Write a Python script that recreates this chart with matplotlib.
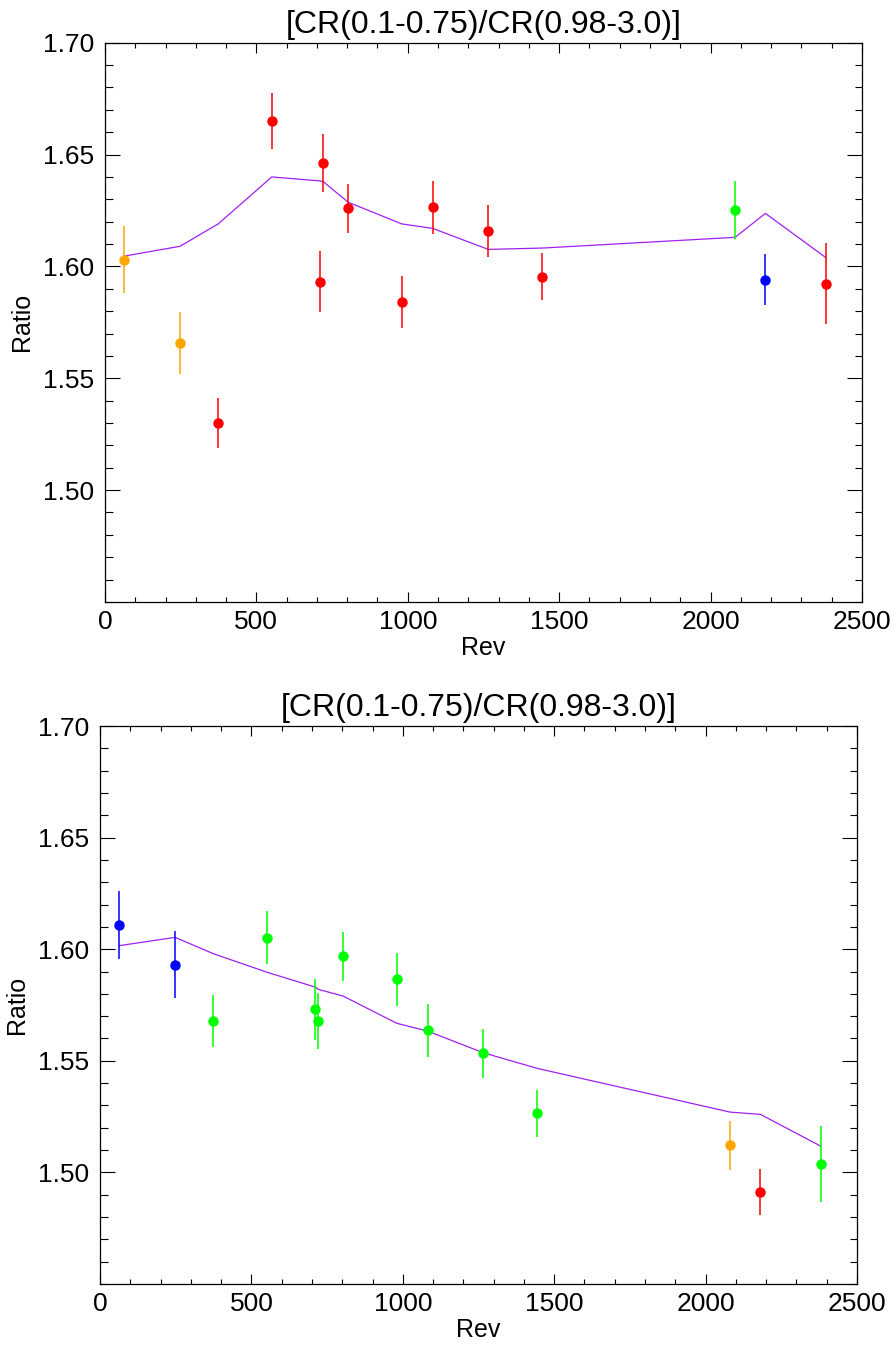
import matplotlib
matplotlib.use('Agg')
import matplotlib.pyplot as plt
from matplotlib.ticker import MultipleLocator

plt.rcParams['font.family'] = ['Liberation Sans', 'DejaVu Sans']

# revolution numbers shared by both panels
rev = [64, 248, 374, 551, 711, 721, 803, 980, 1082, 1266, 1444, 2081, 2181, 2381]

# top panel
top_ratio = [1.603, 1.5658, 1.530, 1.6651, 1.5932, 1.6464, 1.626, 1.5841, 1.6264, 1.6158, 1.5954, 1.6252, 1.5941, 1.5923]
top_err = [0.015, 0.014, 0.011, 0.0124, 0.0135, 0.013, 0.011, 0.0116, 0.012, 0.0115, 0.0104, 0.013, 0.0114, 0.018]
top_color = ['orange', 'orange', 'red', 'red', 'red', 'red', 'red', 'red', 'red', 'red', 'red', 'lime', 'blue', 'red']
top_model = [1.6046, 1.609, 1.619, 1.640, 1.6382, 1.6379, 1.6287, 1.619, 1.617, 1.6076, 1.6082, 1.613, 1.6237, 1.6039]

# bottom panel
bot_ratio = [1.6107, 1.5931, 1.5677, 1.6052, 1.573, 1.5678, 1.5968, 1.5865, 1.5636, 1.5533, 1.5265, 1.5121, 1.4912, 1.5036]
bot_err = [0.0153, 0.015, 0.0116, 0.012, 0.0138, 0.0127, 0.011, 0.0118, 0.0117, 0.011, 0.0106, 0.011, 0.0105, 0.017]
bot_color = ['blue', 'blue', 'lime', 'lime', 'lime', 'lime', 'lime', 'lime', 'lime', 'lime', 'lime', 'orange', 'red', 'lime']
bot_model = [1.6016, 1.6053, 1.598, 1.5897, 1.583, 1.582, 1.579, 1.5668, 1.5633, 1.5536, 1.5466, 1.527, 1.526, 1.5117]

title = '[CR(0.1-0.75)/CR(0.98-3.0)]'

fig = plt.figure(figsize=(8.94, 13.47), dpi=100)
ax1 = fig.add_axes([0.1174, 0.5531, 0.8468, 0.4152])
ax2 = fig.add_axes([0.1119, 0.0468, 0.8467, 0.4142])

def panel(ax, ratio, err, colors, model):
    ax.plot(rev, model, color='#a020f0', lw=0.9, zorder=2)
    for x, y, e, c in zip(rev, ratio, err, colors):
        ax.errorbar(x, y, yerr=e, fmt='o', color=c, ms=6.5, elinewidth=1.1,
                    capsize=0, mec=c, zorder=3)
    ax.set_xlim(0, 2500)
    ax.set_ylim(1.45, 1.70)
    ax.xaxis.set_major_locator(MultipleLocator(500))
    ax.xaxis.set_minor_locator(MultipleLocator(100))
    ax.yaxis.set_minor_locator(MultipleLocator(0.01))
    ax.set_yticks([1.50, 1.55, 1.60, 1.65, 1.70])
    ax.set_yticklabels(['1.50', '1.55', '1.60', '1.65', '1.70'])
    ax.tick_params(axis='both', which='both', direction='in', top=True, right=True,
                   width=0.8, labelsize=19)
    ax.tick_params(axis='x', which='major', length=7.2, pad=6)
    ax.tick_params(axis='x', which='minor', length=3.6)
    ax.tick_params(axis='y', which='major', length=10.8, pad=8)
    ax.tick_params(axis='y', which='minor', length=5.4)
    for s in ax.spines.values():
        s.set_linewidth(0.9)
    ax.set_xlabel('Rev', fontsize=18, labelpad=1)
    ax.set_ylabel('Ratio', fontsize=18, labelpad=6)
    ax.set_title(title, fontsize=23, pad=7)

panel(ax1, top_ratio, top_err, top_color, top_model)
panel(ax2, bot_ratio, bot_err, bot_color, bot_model)

fig.savefig('out.png', dpi=100)
